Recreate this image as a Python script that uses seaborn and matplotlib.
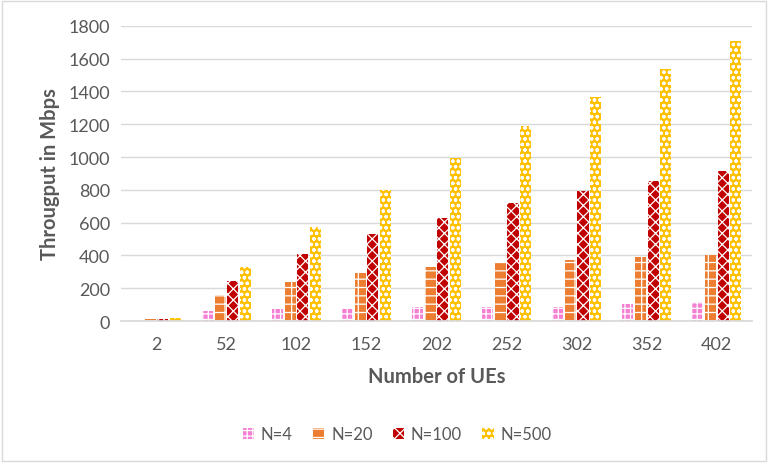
import matplotlib
matplotlib.use("Agg")
import matplotlib.pyplot as plt
import matplotlib.patches as mpatches
import seaborn as sns
import pandas as pd

categories = ["2", "52", "102", "152", "202", "252", "302", "352", "402"]
series_names = ["N=4", "N=20", "N=100", "N=500"]
n4 = [2, 60, 75, 80, 83, 85, 87, 102, 118]
n20 = [10, 160, 235, 290, 330, 355, 374, 392, 404]
n100 = [15, 245, 410, 530, 630, 720, 791, 855, 916]
n500 = [18, 330, 575, 800, 995, 1190, 1364, 1537, 1705]
y_ticks = [0, 200, 400, 600, 800, 1000, 1200, 1400, 1600, 1800]

colors = ["#F57FD2", "#ED7D31", "#C00000", "#FFC000"]
hatches = ["+++", "-|-", "xxx", "ooo"]

rows = []
for name, vals in zip(series_names, [n4, n20, n100, n500]):
    for c, v in zip(categories, vals):
        rows.append({"UEs": c, "Series": name, "Throughput": v})
df = pd.DataFrame(rows)

sns.set_theme(style="white")
plt.rcParams["font.family"] = ["Lato", "DejaVu Sans"]
plt.rcParams["hatch.color"] = "white"
plt.rcParams["hatch.linewidth"] = 0.9

fig = plt.figure(figsize=(7.68, 4.64), dpi=100)
ax = fig.add_axes([0.158, 0.306, 0.821, 0.636])

sns.barplot(data=df, x="UEs", y="Throughput", hue="Series", order=categories,
            hue_order=series_names, palette=colors, width=0.72, gap=0.12,
            ax=ax, legend=False, saturation=1)

for cont, h in zip(ax.containers, hatches):
    for p in cont:
        p.set_hatch(h)
        p.set_edgecolor("white")
        p.set_linewidth(0)

ax.set_ylim(0, 1800)
ax.set_xlim(-0.5, 8.5)
ax.set_yticks(y_ticks)
ax.yaxis.grid(True, color="#D9D9D9", linewidth=1)
ax.set_axisbelow(True)
for s in ["top", "right", "left"]:
    ax.spines[s].set_visible(False)
ax.spines["bottom"].set_color("#D9D9D9")
ax.tick_params(axis="both", colors="#595959", labelsize=13, length=0, pad=8)
ax.tick_params(axis="x", pad=11)
ax.set_xlabel("Number of UEs", fontsize=14.5, fontweight="bold", color="#595959", labelpad=10)
ax.set_ylabel("Througput in Mbps", fontsize=14.5, fontweight="bold", color="#595959", labelpad=6)

handles = [mpatches.Patch(facecolor=c, hatch=h, edgecolor="white", linewidth=0, label=n)
           for c, h, n in zip(colors, hatches, series_names)]
leg = fig.legend(handles=handles, loc="center", bbox_to_anchor=(0.517, 0.062), ncol=4,
                 frameon=False, fontsize=12, handlelength=0.7, handleheight=0.7,
                 columnspacing=1.2, handletextpad=0.4)
for t in leg.get_texts():
    t.set_color("#595959")

fig.patches.append(mpatches.Rectangle((0.003, 0.004), 0.994, 0.992, transform=fig.transFigure,
                                      fill=False, edgecolor="#D9D9D9", linewidth=1))

fig.savefig("out.png", dpi=100)
